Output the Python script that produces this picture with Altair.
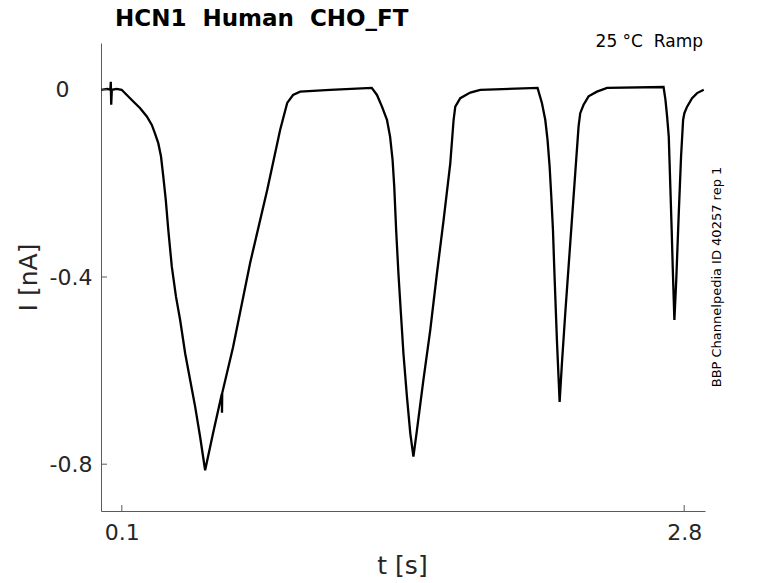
import altair as alt
import pandas as pd

# ---- data ----
t_s = [0.000, 0.030, 0.045, 0.047, 0.049, 0.052, 0.075, 0.099,
       0.124, 0.155, 0.187, 0.220, 0.244, 0.259, 0.275, 0.288, 0.299, 0.311,
       0.323, 0.340, 0.360, 0.380, 0.404, 0.428, 0.452, 0.476, 0.500,
       0.538, 0.580, 0.581, 0.582, 0.634, 0.716, 0.798, 0.860, 0.894, 0.922,
       0.956, 1.100, 1.300,
       1.325, 1.349, 1.373, 1.388, 1.400, 1.408, 1.417, 1.428, 1.440, 1.452,
       1.469, 1.485, 1.500,
       1.517, 1.548, 1.581, 1.613, 1.645, 1.677, 1.693, 1.701, 1.725, 1.773,
       1.821, 2.096,
       2.117, 2.133, 2.144, 2.154, 2.162, 2.170, 2.176, 2.183, 2.189, 2.196,
       2.202,
       2.213, 2.229, 2.245, 2.261, 2.277, 2.293, 2.301, 2.317, 2.341, 2.381,
       2.430, 2.701,
       2.710, 2.718, 2.726, 2.730, 2.735, 2.740, 2.745, 2.750, 2.753,
       2.762, 2.774, 2.785, 2.795, 2.801, 2.814, 2.838, 2.862, 2.894]
i_nA = [0.000, 0.002, 0.000, 0.017, -0.032, 0.000, 0.002, 0.000,
        -0.011, -0.025, -0.039, -0.057, -0.075, -0.093, -0.114, -0.142, -0.185, -0.235,
        -0.299, -0.378, -0.442, -0.492, -0.563, -0.620, -0.677, -0.742, -0.813,
        -0.734, -0.650, -0.690, -0.648, -0.550, -0.370, -0.214, -0.086, -0.028, -0.011,
        -0.004, 0.000, 0.004,
        -0.011, -0.036, -0.064, -0.100, -0.150, -0.207, -0.299, -0.392, -0.478, -0.563,
        -0.656, -0.734, -0.784,
        -0.727, -0.620, -0.513, -0.392, -0.278, -0.157, -0.064, -0.036, -0.018, -0.006,
        0.000, 0.004,
        -0.028, -0.064, -0.107, -0.164, -0.228, -0.299, -0.378, -0.463, -0.535, -0.606,
        -0.667,
        -0.585, -0.478, -0.378, -0.278, -0.178, -0.078, -0.050, -0.032, -0.014, -0.004,
        0.004, 0.006,
        -0.021, -0.057, -0.100, -0.157, -0.228, -0.299, -0.378, -0.449, -0.492,
        -0.406, -0.264, -0.143, -0.064, -0.050, -0.036, -0.018, -0.007, 0.000]
x_ticks = [0.1, 2.8]
y_ticks = [0, -0.4, -0.8]
title_text = "HCN1\u00a0 Human\u00a0 CHO_FT"
cond_text = "25 \u00b0C\u00a0 Ramp"
side_text = "BBP Channelpedia ID 40257 rep 1"

FONT = "DejaVu Sans"
AXC = "#5a5a5a"
TXC = "#262626"

df = pd.DataFrame({"t": t_s, "I": i_nA, "k": list(range(len(t_s)))})
xscale = alt.Scale(domain=[0, 2.9], nice=False, zero=False)
yscale = alt.Scale(domain=[-0.9, 0.1], nice=False, zero=False)

xaxis = alt.Axis(values=x_ticks, format=".1f", ticks=False, grid=False,
                 domainColor=AXC, domainWidth=1,
                 labelFont=FONT, labelFontSize=22, labelColor=TXC, labelPadding=11,
                 title="t [s]", titleFont=FONT, titleFontSize=25, titleFontWeight="normal",
                 titleColor=TXC, titleX=301, titleY=62, titleBaseline="alphabetic",
                 titleAlign="center")
yaxis = alt.Axis(values=y_ticks, ticks=False, grid=False,
                 labelExpr="datum.value == 0 ? '0' : '-' + format(abs(datum.value), '.1f')",
                 domainColor=AXC, domainWidth=1,
                 labelFont=FONT, labelFontSize=22, labelColor=TXC,
                 labelPadding=alt.condition("datum.value == 0", alt.value(32), alt.value(9)),
                 title="I [nA]", titleFont=FONT, titleFontSize=25, titleFontWeight="normal",
                 titleColor=TXC, titleX=-65, titleY=234, titleAngle=270,
                 titleBaseline="alphabetic", titleAlign="center")

trace = alt.Chart(df).mark_line(color="black", strokeWidth=2.3, clip=True).encode(
    x=alt.X("t:Q", scale=xscale, axis=xaxis),
    y=alt.Y("I:Q", scale=yscale, axis=yaxis),
    order=alt.Order("k:Q"),
)

xt = alt.Chart(pd.DataFrame({"t": x_ticks})).mark_rule(color=AXC, strokeWidth=1).encode(
    x=alt.X("t:Q", scale=xscale),
    y=alt.value(468), y2=alt.value(462),
)
yt = alt.Chart(pd.DataFrame({"I": y_ticks})).mark_rule(color=AXC, strokeWidth=1).encode(
    y=alt.Y("I:Q", scale=yscale),
    x=alt.value(0), x2=alt.value(6),
)

cond = alt.Chart(pd.DataFrame({"s": [cond_text]})).mark_text(
    font=FONT, fontSize=17, color="black", align="right", baseline="alphabetic"
).encode(x=alt.value(602), y=alt.value(4), text="s:N")

side = alt.Chart(pd.DataFrame({"s": [side_text]})).mark_text(
    font=FONT, fontSize=13, color="black", align="center", baseline="middle", angle=270
).encode(x=alt.value(616), y=alt.value(234), text="s:N")

chart = alt.layer(trace, xt, yt, cond, side).properties(
    width=604, height=468,
    autosize=alt.AutoSizeParams(type="none"),
    padding={"left": 93, "top": 35, "right": 65, "bottom": 70},
    title=alt.TitleParams(text=title_text, anchor="start", frame="group", dx=14, dy=21,
                          offset=5, font=FONT, fontSize=23, fontWeight="bold",
                          color="black", baseline="alphabetic"),
    background="white",
).configure_view(stroke=None)

chart.save("out.html", embed_options={"renderer": "svg", "actions": False})
